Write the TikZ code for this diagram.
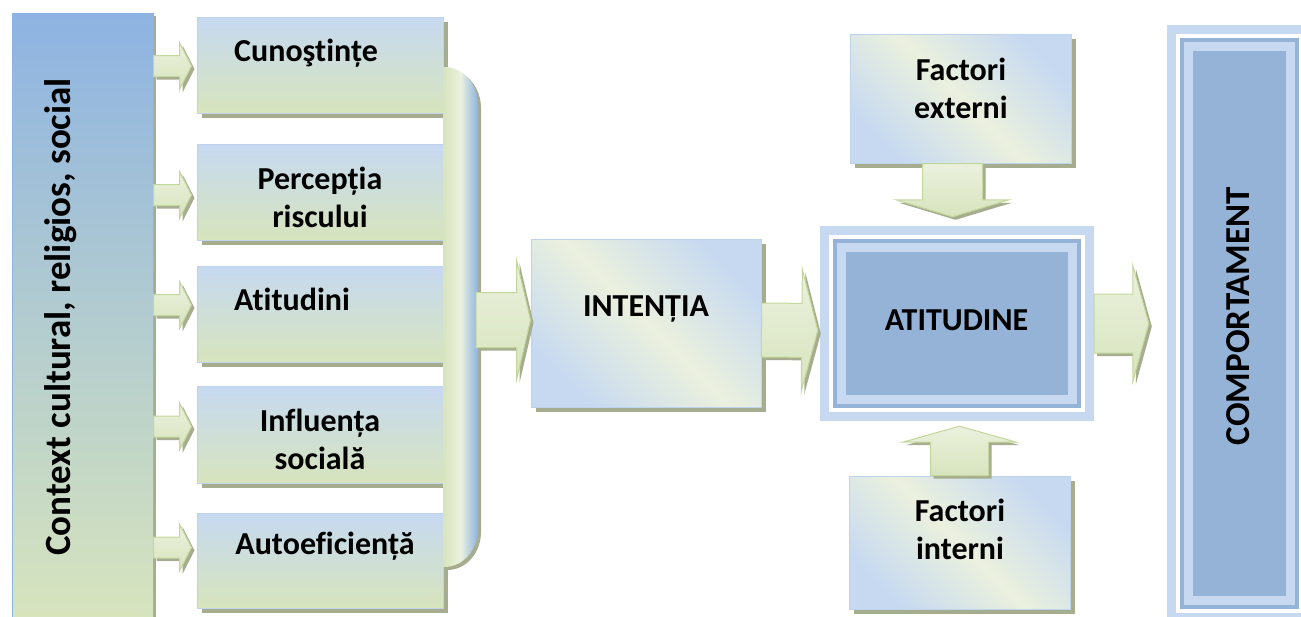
\documentclass[tikz,border=0pt]{standalone}
\usepackage{fontspec}
\setmainfont{Carlito}[Ligatures=NoCommon]
\usetikzlibrary{calc,shadows}

\definecolor{paleblue}{HTML}{C6D9F1}
\definecolor{palegreen}{HTML}{D7E4BD}
\definecolor{lightgreen}{HTML}{EBF1DE}
\definecolor{arrowline}{HTML}{C3D69B}
\definecolor{ctxblue}{HTML}{8DB3E2}
\definecolor{ringblue}{HTML}{95B3D7}
\definecolor{shadowgrey}{HTML}{A5AD8E}

\newcommand{\fatarrow}[5]{%
  \path[fatarr] let \p1 = (#1), \p2 = (#2),
      \n1 = {atan2(\y2-\y1,\x2-\x1)}, \n2 = {veclen(\x2-\x1,\y2-\y1)} in
    [shift={(\p1)}, rotate=\n1]
    (0,-#3) -- (\n2-#5,-#3) -- (\n2-#5,-#4) -- (\n2,0) -- (\n2-#5,#4) -- (\n2-#5,#3) -- (0,#3) -- cycle;}

\begin{document}
\begin{tikzpicture}[x=1pt, y=-1pt,
    lbl/.style = {font=\bfseries\fontsize{32}{38}\selectfont, align=center, inner sep=0pt},
    ctxbox/.style = {draw=ctxblue, line width=1pt, top color=ctxblue, bottom color=palegreen, inner sep=0pt,
        drop shadow={shadow xshift=3pt, shadow yshift=-3pt, fill=shadowgrey, opacity=1}},
    srcbox/.style = {draw=paleblue!85!ringblue, line width=1pt, top color=paleblue, bottom color=palegreen,
        minimum width=246pt, inner sep=0pt,
        drop shadow={shadow xshift=5pt, shadow yshift=-5pt, fill=shadowgrey, opacity=1}},
    diagbox/.style = {draw=paleblue!85!ringblue, line width=1pt, top color=paleblue, bottom color=paleblue,
        middle color=lightgreen, shading angle=-45, inner sep=0pt,
        drop shadow={shadow xshift=5pt, shadow yshift=-5pt, fill=shadowgrey, opacity=1}},
    framebox/.style = {fill=paleblue, inner sep=0pt},
    fatarr/.style = {draw=arrowline, line width=1pt, top color=lightgreen, bottom color=palegreen,
        drop shadow={shadow xshift=3pt, shadow yshift=-3pt, fill=shadowgrey, opacity=1}}
  ]
  \useasboundingbox (0,0) rectangle (1301,616);

  \node[ctxbox, minimum width=141pt, minimum height=607pt] (ctx) at (82.5,316.5) {};
  \node[lbl, rotate=90, font=\bfseries\fontsize{37}{42}\selectfont] (ctxtxt) at (61,317) {Context cultural, religios, social};

  \node[srcbox, minimum height=96pt] (cun) at (320,65) {};
  \node[srcbox, minimum height=96pt] (per) at (320,192) {};
  \node[srcbox, minimum height=96pt] (ati) at (320,314) {};
  \node[srcbox, minimum height=97pt] (inf) at (320,434.5) {};
  \node[srcbox, minimum height=95pt] (aut) at (320,560.5) {};

  \node[lbl] (cuntxt) at (306,53) {Cunoştințe};
  \node[lbl] (pertxt) at (320,197) {Percepția\\riscului};
  \node[lbl] (atitxt) at (292,299) {Atitudini};
  \node[lbl] (inftxt) at (320,439) {Influența\\socială};
  \node[lbl] (auttxt) at (325,546) {Autoeficiență};

  \foreach \b/\dy in {cun/-1, per/-3, ati/9, inf/8, aut/13}
    \fatarrow{$(ctx.east |- \b.west)+(0,-\dy)$}{$(\b.west)+(-5,-\dy)$}{10.5}{23.5}{12};

  \shade[left color=palegreen, right color=ctxblue, middle color=lightgreen,
      drop shadow={shadow xshift=3pt, shadow yshift=-3pt, fill=shadowgrey, opacity=1}]
    (443,67) -- (444,67) to[out=0, in=90] (478,105) -- (478,529) to[out=-90, in=0] (444,567) -- (443,567) -- cycle;
  \coordinate (brk) at (476,320);

  \node[diagbox, minimum width=230pt, minimum height=168pt] (int) at (646,323) {};
  \node[lbl] (inttxt) at (646,309) {INTENȚIA};

  \node[diagbox, minimum width=221pt, minimum height=129pt] (fext) at (960.5,98.5) {};
  \node[lbl] (fexttxt) at (961,88) {Factori\\externi};
  \node[diagbox, minimum width=221pt, minimum height=133pt] (fint) at (959.5,542.5) {};
  \node[lbl] (finttxt) at (960,529) {Factori\\interni};

  \node[framebox, minimum width=274pt, minimum height=195pt] (atd) at (957,323.5) {};
  \node[framebox, minimum width=145pt, minimum height=597pt] (cmp) at (1239.5,323.5) {};
  \foreach \f in {atd, cmp}
    \foreach \d/\c in {9/white, 13/ringblue, 17/paleblue, 26/ringblue}
      \fill[\c] ($(\f.north west)+(\d,\d)$) rectangle ($(\f.south east)+(-\d,-\d)$);
  \node[lbl] (atdtxt) at (956.5,320) {ATITUDINE};
  \node[lbl, rotate=90, font=\bfseries\fontsize{35}{40}\selectfont] (cmptxt) at (1238.5,316) {COMPORTAMENT};

  \fatarrow{brk}{int.west |- brk}{27.5}{60}{14};
  \fatarrow{$(int.east)+(0,7)$}{$(atd.west)+(-2,7)$}{27}{61}{16};
  \fatarrow{atd.east}{$(cmp.west |- atd.east)+(-18,0)$}{29.5}{58}{16};
  \fatarrow{$(fext.south)+(-8,0)$}{$(fext.south |- atd.north)+(-8,-9)$}{30}{56.5}{17};
  \fatarrow{fint.north}{$(fint.north |- atd.south)+(0,5)$}{29}{57}{16};
\end{tikzpicture}
\end{document}
